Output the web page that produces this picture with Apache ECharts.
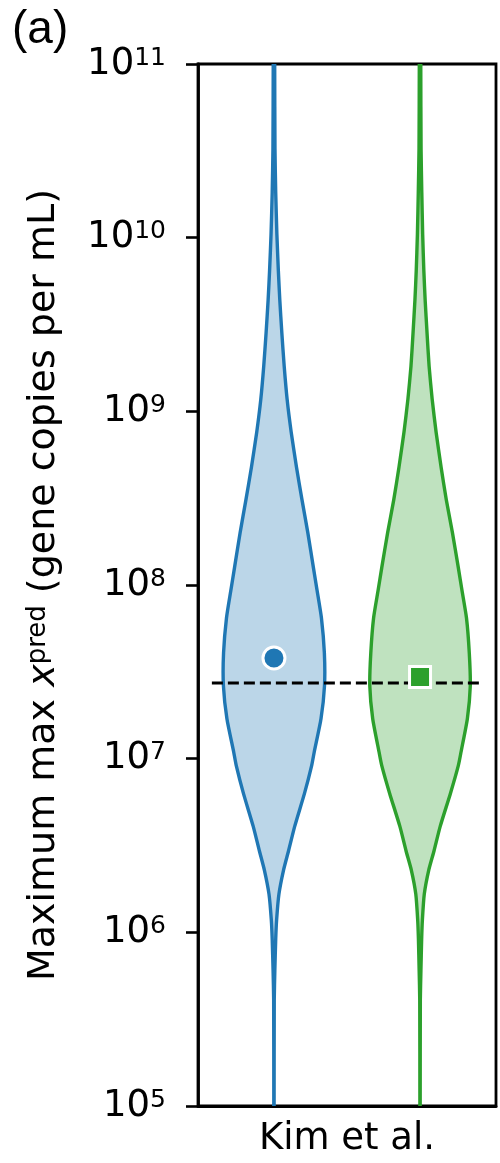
<!DOCTYPE html>
<html><head><meta charset="utf-8">
<script src="https://cdn.jsdelivr.net/npm/echarts@6/dist/echarts.min.js"></script>
<style>html,body{margin:0;padding:0;background:#fff}#c{width:500px;height:1163px}</style>
</head><body><div id="c"></div>
<script>
// ---- data ----
const panelLabel = '(a)';
const categoryLabel = 'Kim et al.';
const violinPositions = [0, 1];
const categoryTickPosition = [0.5];
// log10 of gene copies per mL at which the violin half-widths are read
const densityExponents = [11.4, 11.00, 10.51, 10.26, 10.02, 9.81, 9.64, 9.45, 9.26, 9.07, 8.88, 8.68, 8.49, 8.30, 8.10, 7.97, 7.81, 7.61, 7.42, 7.23, 7.04, 6.96, 6.80, 6.61, 6.47, 6.36, 6.22, 6.07, 5.96, 5.78, 5.61, 5.00, 4.6];
// half-widths (x-axis units) of each violin at those levels
const blueHalfWidths  = [0.005, 0.005, 0.007, 0.012, 0.020, 0.030, 0.040, 0.054, 0.070, 0.090, 0.118, 0.154, 0.192, 0.232, 0.270, 0.295, 0.325, 0.345, 0.346, 0.322, 0.276, 0.258, 0.209, 0.142, 0.100, 0.066, 0.034, 0.018, 0.012, 0.006, 0.002, 0.001, 0.001];
const greenHalfWidths = [0.005, 0.005, 0.007, 0.012, 0.018, 0.026, 0.035, 0.048, 0.062, 0.083, 0.110, 0.144, 0.180, 0.222, 0.262, 0.287, 0.318, 0.337, 0.344, 0.324, 0.281, 0.262, 0.208, 0.138, 0.096, 0.060, 0.029, 0.016, 0.011, 0.006, 0.002, 0.001, 0.001];
const meanValues = [3.8e7, 2.95e7];
const referenceLevel = 2.73e7;
const referenceExtent = [-0.425, 1.425];
const yMin = 1e5, yMax = 1e11;

const FONT = 'DejaVu Sans';
const BLUE = '#1f77b4', GREEN = '#2ca02c';

function violinSeries(pos, widths, color, fill) {
  return {
    type: 'custom',
    clip: true,
    z: 2,
    data: [[pos, yMin]],
    renderItem: function (params, api) {
      const right = [], left = [];
      for (let i = 0; i < densityExponents.length; i++) {
        const v = Math.pow(10, densityExponents[i]);
        right.push(api.coord([pos + widths[i], v]));
        left.push(api.coord([pos - widths[i], v]));
      }
      const pts = right.concat(left.reverse());
      return {
        type: 'polygon',
        shape: { points: pts, smooth: 0.2 },
        style: { fill: fill, stroke: color, lineWidth: 3.4, lineJoin: 'round' }
      };
    }
  };
}

const chart = echarts.init(document.getElementById('c'), null, { renderer: 'canvas' });
chart.setOption({
  animation: false,
  backgroundColor: '#fff',
  title: {
    text: panelLabel, left: 7, top: 2,
    textStyle: { fontFamily: 'Liberation Sans', fontSize: 46, fontWeight: 'normal', color: '#000' }
  },
  grid: {
    left: 198, right: 4, top: 64, bottom: 57,
    show: true, borderColor: '#000', borderWidth: 2.8, backgroundColor: 'transparent'
  },
  xAxis: {
    type: 'value', min: -0.52, max: 1.52,
    axisLine: { show: true, lineStyle: { color: '#000', width: 2.8 } },
    axisTick: { show: false },
    splitLine: { show: false },
    axisLabel: {
      customValues: categoryTickPosition,
      formatter: function () { return categoryLabel; },
      margin: 15, fontFamily: FONT, fontSize: 37, color: '#000'
    }
  },
  yAxis: {
    type: 'log', logBase: 10, min: yMin, max: yMax, interval: 1,
    axisLine: { show: true, onZero: false, lineStyle: { color: '#000', width: 2.8 } },
    axisTick: { show: true, length: 12, lineStyle: { color: '#000', width: 2.6 } },
    minorTick: { show: false },
    splitLine: { show: false },
    axisLabel: {
      margin: 32,
      formatter: function (v) {
        const e = Math.round(Math.log10(v));
        return '{b|10}{s|' + e + '}';
      },
      rich: {
        b: { fontFamily: FONT, fontSize: 37, color: '#000' },
        s: { fontFamily: FONT, fontSize: 25, color: '#000', verticalAlign: 'top' }
      }
    },
    name: '{n|Maximum max }{i|x}{s|pred}{n| (gene copies per mL)}',
    nameLocation: 'middle',
    nameRotate: 90,
    nameGap: 135,
    nameTextStyle: {
      rich: {
        n: { fontFamily: FONT, fontSize: 38, color: '#000' },
        i: { fontFamily: FONT, fontSize: 38, fontStyle: 'italic', color: '#000' },
        s: { fontFamily: FONT, fontSize: 26, color: '#000', verticalAlign: 'top' }
      }
    }
  },
  series: [
    violinSeries(violinPositions[0], blueHalfWidths, BLUE, 'rgba(31,119,180,0.3)'),
    violinSeries(violinPositions[1], greenHalfWidths, GREEN, 'rgba(44,160,44,0.3)'),
    {
      type: 'line', z: 3, symbol: 'none', silent: true,
      data: [[referenceExtent[0], referenceLevel], [referenceExtent[1], referenceLevel]],
      lineStyle: { color: '#000', width: 3, type: [11, 5] }
    },
    {
      type: 'scatter', z: 4, symbol: 'circle', symbolSize: 22,
      data: [[violinPositions[0], meanValues[0]]],
      itemStyle: { color: BLUE, borderColor: '#fff', borderWidth: 3, opacity: 1 }
    },
    {
      type: 'scatter', z: 4, symbol: 'rect', symbolSize: 21,
      data: [[violinPositions[1], meanValues[1]]],
      itemStyle: { color: GREEN, borderColor: '#fff', borderWidth: 3, opacity: 1 }
    }
  ]
});
</script></body></html>
